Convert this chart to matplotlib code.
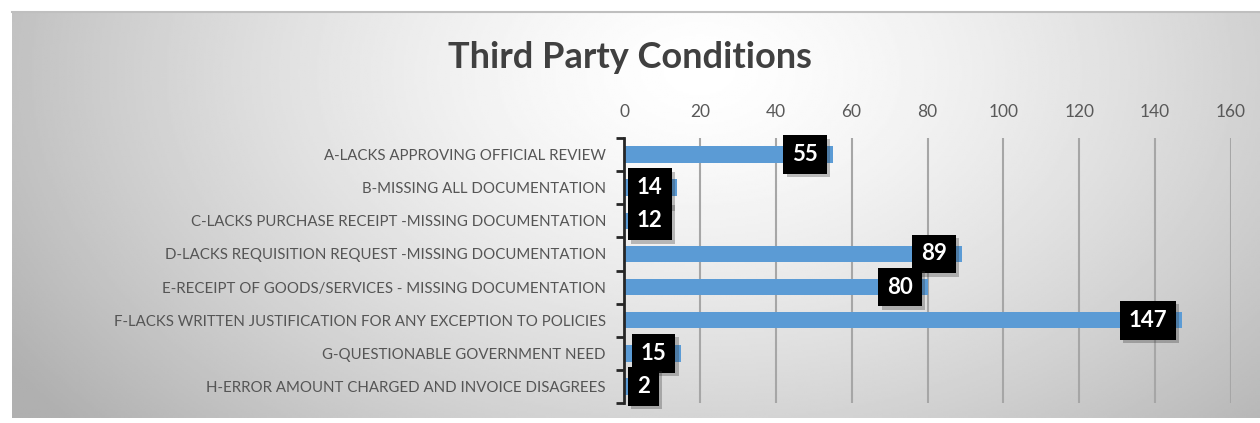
import numpy as np
import matplotlib.pyplot as plt
from matplotlib import patheffects as pe

categories = [
    "A-LACKS APPROVING OFFICIAL REVIEW",
    "B-MISSING ALL DOCUMENTATION",
    "C-LACKS PURCHASE RECEIPT -MISSING DOCUMENTATION",
    "D-LACKS REQUISITION REQUEST -MISSING DOCUMENTATION",
    "E-RECEIPT OF GOODS/SERVICES - MISSING DOCUMENTATION",
    "F-LACKS WRITTEN JUSTIFICATION FOR ANY EXCEPTION TO POLICIES",
    "G-QUESTIONABLE GOVERNMENT NEED",
    "H-ERROR AMOUNT CHARGED AND INVOICE DISAGREES",
]
counts = [55, 14, 12, 89, 80, 147, 15, 2]
x_ticks = [0, 20, 40, 60, 80, 100, 120, 140, 160]

plt.rcParams['font.family'] = ['Lato', 'DejaVu Sans']

fig = plt.figure(figsize=(12.6, 4.23), dpi=100)

# radial gradient background of the chart area
bg = fig.add_axes([12 / 1260, 5 / 423, 1 - 12 / 1260, 406 / 423])
h, w = 200, 600
yy, xx = np.mgrid[0:h, 0:w]
cx, cy = 0.55 * w, 0.15 * h
d = np.sqrt(((xx - cx) / (0.55 * w)) ** 2 + ((yy - cy) / (1.1 * h)) ** 2)
shade = 1.0 - 0.24 * np.clip(d, 0, 1.2) ** 1.4
bg.imshow(shade, cmap='gray', vmin=0, vmax=1, aspect='auto', extent=[0, 1, 0, 1])
bg.set_axis_off()
fig.add_artist(plt.Line2D([12 / 1260, 1], [1 - 12 / 423] * 2, color='#bfbfbf', lw=1.5))

ax = fig.add_axes([624 / 1260, 1 - 403 / 423, 607 / 1260, 265 / 423])
ax.patch.set_alpha(0)
y = np.arange(len(categories))
ax.barh(y, counts, height=0.5, color='#5B9BD5', zorder=2)

ax.set_xlim(0, 160)
ax.set_ylim(len(categories) - 0.5, -0.5)
ax.xaxis.tick_top()
ax.set_xticks(x_ticks)
ax.tick_params(axis='x', length=0, pad=13, labelsize=12.5, labelcolor='#595959')
ax.grid(axis='x', color='#a6a6a6', lw=1.5, zorder=0)

ax.set_yticks(y)
ax.set_yticklabels(categories)
ax.set_yticks(np.arange(len(categories) + 1) - 0.5, minor=True)
ax.tick_params(axis='y', which='major', length=0, pad=13, labelsize=10.8, labelcolor='#555555')
ax.tick_params(axis='y', which='minor', length=6, width=2, color='#262626')

for s in ['top', 'right', 'bottom']:
    ax.spines[s].set_visible(False)
ax.spines['left'].set_color('#262626')
ax.spines['left'].set_linewidth(2)
ax.spines['left'].set_zorder(3)

labels = []
for yi, v in zip(y, counts):
    t = ax.annotate(str(v), (v, yi), xytext=(-10.5, 0), textcoords='offset points',
                    ha='right', va='center', color='white', fontsize=16,
                    fontweight='bold', zorder=5,
                    bbox=dict(boxstyle='square,pad=0.4', fc='black', ec='none'))
    t.get_bbox_patch().set_path_effects([
        pe.SimplePatchShadow(offset=(2.5, -2.5), shadow_rgbFace='#333333', alpha=0.3),
        pe.Normal()])
    labels.append(t)

# keep label boxes inside the plot area like Excel does
fig.canvas.draw()
ax_left = ax.get_window_extent().x0
for t in labels:
    box = t.get_bbox_patch().get_window_extent()
    min_left = ax_left + 4
    if box.x0 < min_left:
        shift = (min_left - box.x0) * 72 / fig.dpi
        ox, oy = t.xyann
        t.xyann = (ox + shift, oy)

fig.text(0.5, 1 - 58 / 423, "Third Party Conditions", ha='center', va='center',
         fontsize=26, fontweight='bold', color='#404040')

fig.savefig('out.png', dpi=100)
